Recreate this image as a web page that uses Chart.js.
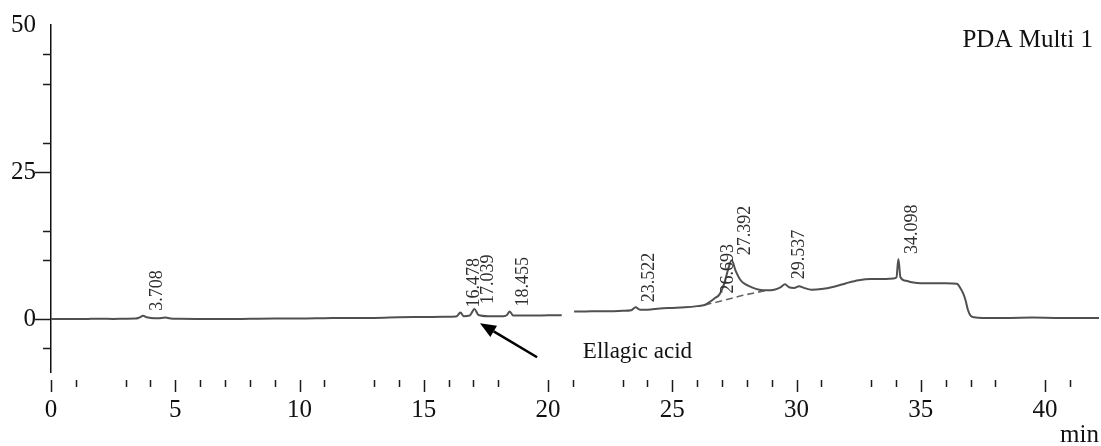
<!DOCTYPE html>
<html>
<head>
<meta charset="utf-8">
<script src="https://cdn.jsdelivr.net/npm/chart.js@4"></script>
<style>
  html, body { margin: 0; padding: 0; background: #fff; }
  #wrap { width: 1101px; height: 446px; }
</style>
</head>
<body>
<div id="wrap"><canvas id="chrom"></canvas></div>
<script>
// =============================================================================
// data: retention time (min) vs detector response, PDA channel
// =============================================================================
const times = [
    0, 0.5, 1.0, 1.5, 2.0, 2.5, 3.0, 3.4, 3.55, 3.708, 3.85, 4.0, 4.3, 4.6, 4.8,
    5.2, 6.0, 7.0, 8.0, 9.0, 10.0, 11.0, 12.0, 13.0, 14.0, 15.0, 15.8, 16.3,
    16.478, 16.6, 16.85, 17.039, 17.2, 17.6, 18.2, 18.35, 18.455, 18.6, 19.0,
    19.5, 20.0, 20.55, 20.8, 21.05, 21.5, 22.0, 22.5, 23.0, 23.35, 23.522, 23.7,
    24.0, 24.5, 25.0, 25.5, 26.0, 26.3, 26.5, 26.693, 26.9, 27.1, 27.25, 27.392,
    27.55, 27.75, 27.95, 28.2, 28.5, 28.8, 29.1, 29.35, 29.537, 29.7, 29.9, 30.1,
    30.3, 30.6, 31.0, 31.5, 32.0, 32.5, 33.0, 33.5, 33.9, 34.02, 34.098, 34.18,
    34.4, 34.7, 35.0, 35.5, 36.0, 36.45, 36.6, 36.7, 36.8, 36.9, 37.0, 37.15,
    37.5, 38.5, 39.5, 40.5, 41.5, 42.17
];
const signal = [
    0, 0.02, 0, 0.03, 0.05, 0.02, 0.05, 0.08, 0.25, 0.55, 0.3, 0.2, 0.12, 0.25, 0.1,
    0.05, 0.02, 0, 0.05, 0.1, 0.1, 0.15, 0.2, 0.2, 0.3, 0.35, 0.4, 0.45,
    1.1, 0.5, 0.6, 1.7, 0.7, 0.5, 0.5, 0.7, 1.3, 0.6, 0.6,
    0.6, 0.65, 0.65, null, 1.3, 1.3, 1.35, 1.35, 1.4, 1.5, 2.0, 1.6,
    1.6, 1.8, 1.9, 2.0, 2.2, 2.4, 2.9, 3.5, 4.2, 6.2, 8.5, 10.0,
    8.2, 6.6, 5.9, 5.4, 5.0, 4.9, 5.0, 5.4, 5.9, 5.4, 5.3, 5.6,
    5.3, 5.0, 5.1, 5.5, 6.1, 6.6, 6.8, 6.8, 6.9, 7.1, 10.2, 7.1,
    6.5, 6.2, 6.1, 6.1, 6.1, 6.0, 5.2, 4.4, 3.2, 1.5, 0.6, 0.3,
    0.2, 0.2, 0.25, 0.2, 0.2, 0.2
];

// drop line under the 27.4 min hump
const baseTimes = [26.3, 27.0, 27.8, 28.8];
const baseSignal = [2.4, 3.1, 4.0, 4.9];

// peaks with retention time labels
const peakTimes = [3.708, 16.478, 17.039, 18.455, 23.522, 26.693, 27.392, 29.537, 34.098];
const peakLabels = ["3.708", "16.478", "17.039", "18.455", "23.522", "26.693", "27.392", "29.537", "34.098"];

// axis ticks
const xLabelled = [0, 5, 10, 15, 20, 25, 30, 35, 40];
const xTickSkip = [2, 12, 19, 22, 32, 39];
const yLabelled = [0, 25, 50];
const yMajor = [0, 25];
const yTickSkip = [5, 20, 35, 50];

// arrow pointing at the ellagic acid peak (min, response)
const arrowFrom = [19.56, -6.5];
const arrowTo = [17.26, -0.7];
const arrowText = "Ellagic acid";
const arrowTextAt = [21.4, -6.6];
const channelName = "PDA Multi 1";

const SERIF = "'Liberation Serif', 'DejaVu Serif', serif";

const trace = times.map((t, i) => ({ x: t, y: signal[i] }));
const drop = baseTimes.map((t, i) => ({ x: t, y: baseSignal[i] }));

// =============================================================================
// tick marks, peak labels and annotations
// =============================================================================
const chromDecor = {
    id: "chromDecor",
    afterDraw(chart) {
        const { ctx, chartArea } = chart;
        const xs = chart.scales.x;
        const ys = chart.scales.y;

        ctx.save();
        ctx.strokeStyle = "#1a1a1a";
        ctx.lineWidth = 1.5;

        // x ticks sit a little below the plot, minutes only
        xs.ticks.forEach((tk) => {
            const v = tk.value;
            if (!Number.isInteger(v) || xTickSkip.includes(v)) return;
            const px = Math.round(xs.getPixelForValue(v)) + 0.5;
            const len = v % 5 === 0 ? 12 : 7;
            ctx.beginPath();
            ctx.moveTo(px, chartArea.bottom + 8);
            ctx.lineTo(px, chartArea.bottom + 8 + len);
            ctx.stroke();
        });

        // y ticks every 5
        ys.ticks.forEach((tk) => {
            const v = tk.value;
            if (v % 5 !== 0 || yTickSkip.includes(v)) return;
            const py = Math.round(ys.getPixelForValue(v)) + 0.5;
            const len = yMajor.includes(v) ? 16 : 8;
            ctx.beginPath();
            ctx.moveTo(chartArea.left - len, py);
            ctx.lineTo(chartArea.left, py);
            ctx.stroke();
        });

        // retention time labels, rotated, just above each apex
        const pts = chart.getDatasetMeta(0).data;
        ctx.fillStyle = "#2e2e2e";
        ctx.font = "18px " + SERIF;
        ctx.textAlign = "left";
        ctx.textBaseline = "middle";
        peakTimes.forEach((t, i) => {
            const idx = times.indexOf(t);
            if (idx < 0) return;
            const p = pts[idx];
            ctx.save();
            ctx.translate(p.x + 14, p.y - 5);
            ctx.rotate(-Math.PI / 2);
            ctx.fillText(peakLabels[i], 0, 0);
            ctx.restore();
        });

        // arrow
        const x0 = xs.getPixelForValue(arrowFrom[0]), y0 = ys.getPixelForValue(arrowFrom[1]);
        const x1 = xs.getPixelForValue(arrowTo[0]), y1 = ys.getPixelForValue(arrowTo[1]);
        const ang = Math.atan2(y1 - y0, x1 - x0);
        const head = 16, half = 6.5;
        const bx = x1 - head * Math.cos(ang), by = y1 - head * Math.sin(ang);
        ctx.strokeStyle = "#000";
        ctx.lineWidth = 2.5;
        ctx.beginPath();
        ctx.moveTo(x0, y0);
        ctx.lineTo(bx, by);
        ctx.stroke();
        ctx.fillStyle = "#000";
        ctx.beginPath();
        ctx.moveTo(x1, y1);
        ctx.lineTo(bx + half * Math.sin(ang), by - half * Math.cos(ang));
        ctx.lineTo(bx - half * Math.sin(ang), by + half * Math.cos(ang));
        ctx.closePath();
        ctx.fill();

        ctx.fillStyle = "#111";
        ctx.font = "23px " + SERIF;
        ctx.textAlign = "left";
        ctx.textBaseline = "alphabetic";
        ctx.fillText(arrowText, xs.getPixelForValue(arrowTextAt[0]), ys.getPixelForValue(arrowTextAt[1]));

        // channel name, top right
        ctx.font = "25px " + SERIF;
        ctx.textAlign = "right";
        ctx.fillText(channelName, chartArea.right - 6, chartArea.top + 22);

        ctx.restore();
    },
};

// =============================================================================
// chart
// =============================================================================
new Chart(document.getElementById("chrom"), {
    type: "line",
    data: {
        datasets: [
            {
                data: trace,
                borderColor: "#505050",
                borderWidth: 2,
                pointRadius: 0,
                cubicInterpolationMode: "monotone",
                spanGaps: false,
            },
            {
                data: drop,
                borderColor: "#666",
                borderWidth: 1.6,
                borderDash: [7, 4],
                pointRadius: 0,
            },
        ],
    },
    options: {
        responsive: true,
        maintainAspectRatio: false,
        animation: false,
        events: [],
        layout: { padding: { top: 25, right: 2, left: 0, bottom: 0 } },
        plugins: {
            legend: { display: false },
            tooltip: { enabled: false },
        },
        scales: {
            x: {
                type: "linear",
                min: 0,
                max: 42.17,
                afterFit: (s) => { s.height = 74; },
                border: { display: false },
                grid: { display: true, drawOnChartArea: false, drawTicks: true, tickLength: 24, color: "rgba(0,0,0,0)" },
                ticks: {
                    stepSize: 1,
                    autoSkip: false,
                    maxRotation: 0,
                    padding: 2,
                    color: "#111",
                    font: { family: SERIF, size: 25, lineHeight: 1 },
                    callback: (v) => (xLabelled.includes(v) ? String(v) : ""),
                },
                title: {
                    display: true,
                    text: "min",
                    align: "end",
                    color: "#111",
                    font: { family: SERIF, size: 25, lineHeight: 0.8 },
                    padding: { top: 0, bottom: 1 },
                },
            },
            y: {
                min: -9,
                max: 50,
                afterFit: (s) => { s.width = 51; },
                border: { display: true, color: "#111", width: 1.5 },
                grid: { display: true, drawOnChartArea: false, drawTicks: true, tickLength: 14, color: "rgba(0,0,0,0)" },
                ticks: {
                    stepSize: 5,
                    autoSkip: false,
                    padding: 1,
                    color: "#111",
                    font: { family: SERIF, size: 25, lineHeight: 1 },
                    callback: (v) => (yLabelled.includes(v) ? String(v) : ""),
                },
            },
        },
    },
    plugins: [chromDecor],
});
</script>
</body>
</html>
